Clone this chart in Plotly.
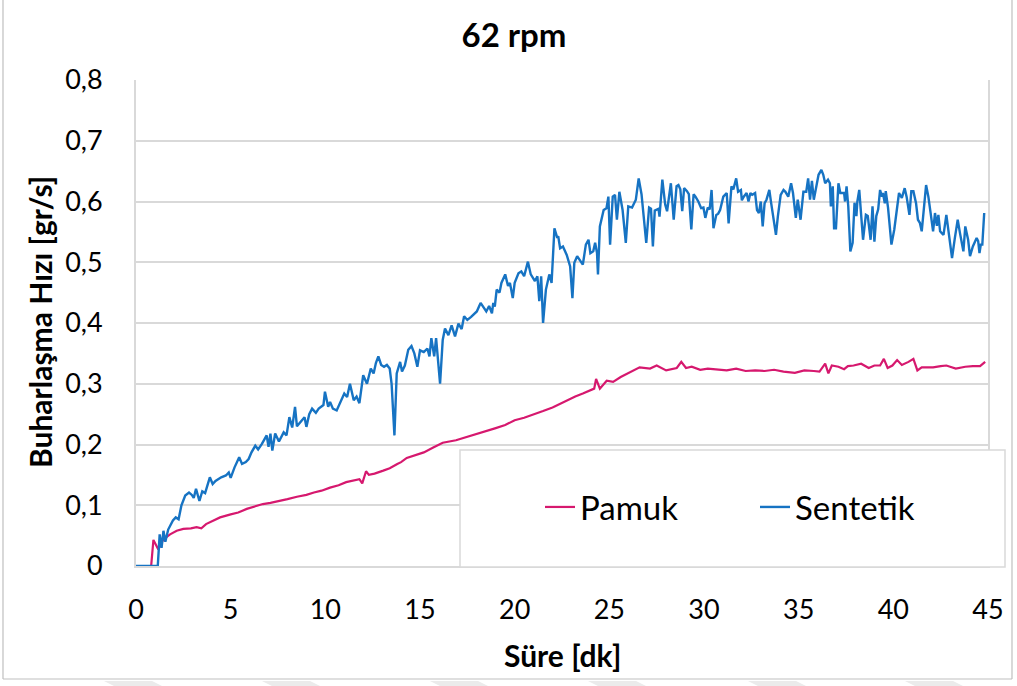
import plotly.graph_objects as go

# Süre [dk] / Buharlaşma Hızı [gr/s] — 62 rpm

pamuk_t = [0, 0.7, 0.8, 0.92, 1.05, 1.18, 1.3, 1.45, 1.8, 2.15, 2.5, 2.9, 3.2, 3.45, 3.7, 3.9,
           4.2, 4.44, 5.0, 5.4, 5.85, 6.3, 6.7, 7.1, 7.6, 8.0, 8.5, 9.0, 9.4, 9.8, 10.25, 10.7,
           11.1, 11.5, 11.8, 11.95, 12.15, 12.3, 12.6, 13.06, 13.4, 13.8, 14.0, 14.3, 14.8, 15.2,
           15.7, 16.2, 16.9, 17.45, 18.0, 18.5, 19.0, 19.5, 20.0, 20.5, 21.0, 21.5, 22.0, 22.4,
           22.8, 23.2, 23.6, 24.0, 24.2, 24.3, 24.5, 24.86, 25.2, 25.6, 26.1, 26.6, 27.15, 27.5,
           28.0, 28.56, 28.8, 29.05, 29.35, 29.8, 30.2, 30.7, 31.2, 31.7, 32.2, 32.7, 33.2, 33.7,
           34.2, 34.8, 35.3, 35.8, 36.1, 36.4, 36.57, 36.75, 37.1, 37.4, 37.6, 37.9, 38.3, 38.7,
           39.0, 39.3, 39.5, 39.7, 39.95, 40.2, 40.45, 40.8, 41.06, 41.27, 41.5, 41.8, 42.1, 42.5,
           42.8, 43.3, 43.8, 44.2, 44.58, 44.85]
pamuk_v = [0, 0, 0.0, 0.043, 0.036, 0.027, 0.035, 0.044, 0.052, 0.058, 0.061, 0.062, 0.064,
           0.062, 0.069, 0.072, 0.076, 0.080, 0.085, 0.088, 0.094, 0.098, 0.102, 0.104, 0.107,
           0.110, 0.114, 0.117, 0.121, 0.124, 0.129, 0.133, 0.138, 0.141, 0.143, 0.136, 0.156,
           0.150, 0.152, 0.157, 0.161, 0.168, 0.171, 0.178, 0.183, 0.187, 0.195, 0.203, 0.207,
           0.212, 0.217, 0.222, 0.227, 0.232, 0.240, 0.244, 0.249, 0.255, 0.261, 0.267, 0.274,
           0.279, 0.284, 0.289, 0.292, 0.308, 0.292, 0.305, 0.303, 0.311, 0.319, 0.327, 0.325,
           0.330, 0.322, 0.326, 0.336, 0.326, 0.328, 0.323, 0.325, 0.324, 0.322, 0.325, 0.321,
           0.322, 0.321, 0.323, 0.320, 0.318, 0.322, 0.321, 0.320, 0.333, 0.317, 0.330, 0.328,
           0.324, 0.329, 0.330, 0.333, 0.326, 0.330, 0.330, 0.341, 0.326, 0.330, 0.339, 0.331,
           0.336, 0.341, 0.322, 0.327, 0.327, 0.327, 0.329, 0.330, 0.325, 0.328, 0.329, 0.329,
           0.336]

sentetik_t = [0, 1.15, 1.25, 1.35, 1.45, 1.55, 1.7, 1.95, 2.1, 2.25, 2.4, 2.6, 2.8, 2.95, 3.05,
              3.17, 3.35, 3.5, 3.65, 3.8, 3.9, 4.05, 4.2, 4.5, 4.75, 4.9, 5.0, 5.2, 5.45, 5.6,
              5.8, 5.95, 6.1, 6.3, 6.45, 6.65, 6.9, 7.0, 7.1, 7.2, 7.35, 7.55, 7.8, 7.95, 8.1,
              8.25, 8.4, 8.5, 8.7, 8.9, 9.0, 9.15, 9.3, 9.5, 9.65, 9.9, 9.98, 10.15, 10.25, 10.4,
              10.6, 10.8, 11.0, 11.15, 11.3, 11.5, 11.65, 11.8, 12.0, 12.2, 12.4, 12.55, 12.67,
              12.8, 12.95, 13.1, 13.25, 13.4, 13.5, 13.65, 13.77, 13.95, 14.05, 14.2, 14.38,
              14.55, 14.7, 14.86, 15.0, 15.2, 15.39, 15.5, 15.6, 15.75, 15.85, 16.06, 16.2, 16.32,
              16.5, 16.67, 16.85, 17.03, 17.2, 17.33, 17.5, 17.7, 17.85, 18.0, 18.2, 18.35, 18.5,
              18.65, 18.8, 18.87, 18.95, 19.05, 19.2, 19.3, 19.5, 19.65, 19.75, 19.9, 20.0, 20.2,
              20.35, 20.5, 20.7, 20.85, 21.07, 21.2, 21.3, 21.4, 21.5, 21.65, 21.83, 21.95, 22.1,
              22.25, 22.3, 22.4, 22.55, 22.75, 22.93, 23.05, 23.15, 23.3, 23.45, 23.6, 23.76, 23.9,
              24.0, 24.15, 24.25, 24.35, 24.4, 24.5, 24.7, 24.85, 24.95, 25.04, 25.18, 25.3, 25.4,
              25.53, 25.7, 25.87, 26.0, 26.2, 26.4, 26.55, 26.7, 26.95, 27.1, 27.2, 27.3, 27.4,
              27.6, 27.65, 27.8, 27.95, 28.05, 28.25, 28.4, 28.55, 28.65, 28.75, 28.85, 28.95,
              29.1, 29.2, 29.33, 29.45, 29.55, 29.7, 29.85, 29.97, 30.07, 30.2, 30.3, 30.4, 30.5,
              30.65, 30.75, 30.85, 31.02, 31.2, 31.3, 31.45, 31.55, 31.7, 31.8, 31.95, 32.0, 32.1,
              32.25, 32.35, 32.45, 32.55, 32.7, 32.8, 32.9, 33.0, 33.1, 33.2, 33.3, 33.45, 33.55,
              33.7, 33.8, 33.9, 34.05, 34.2, 34.3, 34.45, 34.6, 34.7, 34.85, 34.95, 35.1, 35.25,
              35.4, 35.5, 35.6, 35.7, 35.8, 36.05, 36.2, 36.3, 36.4, 36.55, 36.65, 36.7, 36.8,
              36.87, 36.97, 37.1, 37.2, 37.3, 37.4, 37.45, 37.53, 37.62, 37.73, 37.85, 37.95,
              38.05, 38.1, 38.2, 38.3, 38.4, 38.55, 38.65, 38.8, 38.9, 39.0, 39.1, 39.2, 39.3,
              39.4, 39.45, 39.55, 39.6, 39.72, 39.9, 40.05, 40.2, 40.3, 40.45, 40.6, 40.7, 40.85,
              40.95, 41.06, 41.2, 41.3, 41.4, 41.5, 41.73, 41.85, 41.97, 42.1, 42.2, 42.3, 42.38,
              42.47, 42.56, 42.65, 42.8, 42.9, 43.1, 43.25, 43.4, 43.52, 43.6, 43.7, 43.8, 43.95,
              44.05, 44.2, 44.4, 44.48, 44.55, 44.62, 44.7, 44.8]
sentetik_v = [0, 0, 0.052, 0.03, 0.058, 0.04, 0.06, 0.075, 0.08, 0.077, 0.10, 0.116, 0.121,
              0.117, 0.112, 0.127, 0.107, 0.123, 0.12, 0.135, 0.146, 0.135, 0.14, 0.146, 0.149,
              0.154, 0.145, 0.162, 0.179, 0.168, 0.171, 0.176, 0.187, 0.198, 0.192, 0.201, 0.215,
              0.196, 0.218, 0.19, 0.218, 0.205, 0.22, 0.215, 0.245, 0.228, 0.262, 0.23, 0.237,
              0.245, 0.229, 0.25, 0.259, 0.252, 0.259, 0.265, 0.287, 0.262, 0.27, 0.259, 0.256,
              0.27, 0.284, 0.278, 0.30, 0.273, 0.279, 0.268, 0.314, 0.30, 0.325, 0.317, 0.334,
              0.345, 0.331, 0.328, 0.331, 0.325, 0.30, 0.215, 0.317, 0.336, 0.32, 0.33, 0.356,
              0.362, 0.35, 0.328, 0.355, 0.352, 0.358, 0.345, 0.375, 0.345, 0.375, 0.30, 0.372,
              0.391, 0.38, 0.396, 0.378, 0.399, 0.39, 0.411, 0.405, 0.41, 0.415, 0.419, 0.433,
              0.425, 0.419, 0.428, 0.416, 0.433, 0.427, 0.455, 0.45, 0.466, 0.48, 0.461, 0.466,
              0.441, 0.466, 0.482, 0.485, 0.477, 0.501, 0.48, 0.469, 0.477, 0.436, 0.477, 0.40,
              0.455, 0.48, 0.466, 0.556, 0.54, 0.543, 0.523, 0.526, 0.512, 0.493, 0.441, 0.499,
              0.51, 0.502, 0.496, 0.529, 0.537, 0.515, 0.518, 0.532, 0.515, 0.48, 0.559, 0.586,
              0.589, 0.608, 0.529, 0.608, 0.611, 0.57, 0.616, 0.586, 0.532, 0.592, 0.59, 0.603,
              0.638, 0.612, 0.532, 0.59, 0.588, 0.526, 0.585, 0.588, 0.575, 0.636, 0.595, 0.584,
              0.63, 0.57, 0.625, 0.627, 0.62, 0.584, 0.622, 0.617, 0.612, 0.554, 0.612, 0.608,
              0.60, 0.589, 0.59, 0.573, 0.59, 0.587, 0.619, 0.556, 0.578, 0.58, 0.586, 0.608,
              0.614, 0.564, 0.625, 0.62, 0.638, 0.616, 0.619, 0.602, 0.608, 0.614, 0.60, 0.614,
              0.611, 0.614, 0.586, 0.581, 0.60, 0.559, 0.597, 0.603, 0.619, 0.597, 0.57, 0.545,
              0.575, 0.611, 0.619, 0.616, 0.608, 0.63, 0.614, 0.573, 0.603, 0.57, 0.616, 0.616,
              0.638, 0.603, 0.634, 0.603, 0.644, 0.652, 0.644, 0.63, 0.636, 0.63, 0.592, 0.625,
              0.556, 0.556, 0.63, 0.614, 0.614, 0.614, 0.60, 0.625, 0.592, 0.518, 0.532, 0.598,
              0.576, 0.60, 0.619, 0.576, 0.537, 0.578, 0.576, 0.537, 0.592, 0.534, 0.576, 0.587,
              0.619, 0.608, 0.614, 0.597, 0.617, 0.59, 0.529, 0.554, 0.587, 0.614, 0.606, 0.622,
              0.608, 0.578, 0.617, 0.617, 0.597, 0.57, 0.565, 0.551, 0.627, 0.608, 0.581, 0.551,
              0.581, 0.56, 0.578, 0.551, 0.548, 0.545, 0.578, 0.554, 0.507, 0.54, 0.57, 0.548,
              0.537, 0.518, 0.559, 0.537, 0.51, 0.526, 0.54, 0.535, 0.515, 0.529, 0.529, 0.581]

y_ticks = [0, 0.1, 0.2, 0.3, 0.4, 0.5, 0.6, 0.7, 0.8]
y_tick_text = ["0", "0,1", "0,2", "0,3", "0,4", "0,5", "0,6", "0,7", "0,8"]
x_ticks = [0, 5, 10, 15, 20, 25, 30, 35, 40, 45]

PINK = "#D6186E"
BLUE = "#1673C3"
GRID = "#D9D9D9"
FONT = "Lato"

fig = go.Figure()
fig.add_trace(go.Scatter(x=pamuk_t, y=pamuk_v, mode="lines", name="Pamuk",
                         line=dict(color=PINK, width=2.2)))
fig.add_trace(go.Scatter(x=sentetik_t, y=sentetik_v, mode="lines", name="Sentetik",
                         line=dict(color=BLUE, width=2.4)))

# plot area: left 136px, right 988px, top 80px, bottom 566px
L, R, T, B = 136, 988, 80, 566
W, H = R - L, B - T


def px(x):
    return (x - L) / W


def py(y):
    return (B - y) / H


shapes = []
# legend panel, drawn over the lower right of the plot area
shapes.append(dict(type="rect", xref="paper", yref="paper", layer="above",
                   x0=px(460), x1=px(1005), y0=py(567), y1=py(450),
                   fillcolor="white", line=dict(color=GRID, width=1.5)))
# chart frame
for (x0, y0, x1, y1) in [(3, -2, 3, 679), (3, 679, 1012, 679), (1012, -2, 1012, 679)]:
    shapes.append(dict(type="line", xref="paper", yref="paper", layer="below",
                       x0=px(x0), x1=px(x1), y0=py(y0), y1=py(y1),
                       line=dict(color="#BFBFBF", width=1.2)))
# faint chevron marks along the bottom edge
for cx in [104, 262, 430, 588, 748, 905]:
    path = "M {} {} L {} {} L {} {} L {} {} Z".format(
        px(cx), py(681), px(cx + 48), py(681), px(cx + 58), py(686), px(cx + 10), py(686))
    shapes.append(dict(type="path", xref="paper", yref="paper", path=path,
                       fillcolor="#EBEBEB", line=dict(width=0), layer="below"))

fig.update_layout(
    width=1017, height=686,
    paper_bgcolor="white", plot_bgcolor="white",
    margin=dict(l=L, r=1017 - R, t=T, b=686 - B, autoexpand=False),
    font=dict(family=FONT, color="black"),
    title=dict(text="<b>62 rpm</b>", x=514 / 1017, xref="container", xanchor="center",
               y=1 - 35 / 686, yanchor="middle", font=dict(family=FONT, size=33, color="black")),
    showlegend=True,
    legend=dict(orientation="h", x=px(540), y=py(507), xanchor="left", yanchor="middle",
                bgcolor="rgba(0,0,0,0)", borderwidth=0, itemwidth=30, entrywidth=170,
                font=dict(family=FONT, size=33, color="black")),
    shapes=shapes,
    annotations=[
        dict(text="<b>Buharlaşma Hızı [gr/s]</b>", xref="paper", yref="paper",
             x=px(40), y=py(322), xanchor="center", yanchor="middle",
             textangle=-90, showarrow=False,
             font=dict(family=FONT, size=30, color="black")),
        dict(text="<b>Süre [dk]</b>", xref="paper", yref="paper",
             x=px(562), y=py(655), xanchor="center", yanchor="middle", showarrow=False,
             font=dict(family=FONT, size=30, color="black")),
    ],
)

fig.update_xaxes(range=[0, 45], tickvals=x_ticks, ticktext=[str(v) for v in x_ticks],
                 showgrid=False, zeroline=False, showline=True, linecolor=GRID, linewidth=2,
                 ticks="", ticklabelstandoff=19, tickfont=dict(family=FONT, size=27, color="black"))
fig.update_yaxes(range=[0, 0.8], tickvals=y_ticks, ticktext=y_tick_text,
                 showgrid=True, gridcolor=GRID, gridwidth=1.5, zeroline=False,
                 showline=True, mirror=True, linecolor=GRID, linewidth=2,
                 ticks="", ticklabelstandoff=26, tickfont=dict(family=FONT, size=27, color="black"))

fig.write_html("out.html")
